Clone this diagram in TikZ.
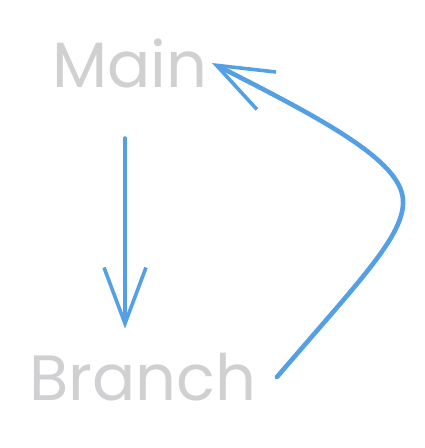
\documentclass[tikz,border=0pt]{standalone}
\usepackage{fontspec}
\setmainfont{Poppins}
\usetikzlibrary{arrows.meta}

\definecolor{labelgray}{HTML}{D0CFD1}
\definecolor{arrowblue}{HTML}{55A0E4}

\begin{document}
\begin{tikzpicture}[x=0.5pt,y=-0.5pt,
    label/.style={text=labelgray,font=\fontsize{32}{36}\selectfont,inner sep=0pt},
    flow/.style={draw=arrowblue,line cap=round,line join=round,
        -{Straight Barb[length=28pt,width=21pt,line width=1.8pt]}}]
    \useasboundingbox (0,0) rectangle (424,448);
    % Labels
    \node[label] (main) at (130,63) {Main};
    \node[label] (branch) at (143,377) {Branch};
    % Main to Branch
    \draw[flow,line width=1.8pt,shorten <=25pt,shorten >=12pt] (main.south) ++(-5,0) coordinate (mainfoot) (mainfoot) -- (branch.north -| mainfoot);
    % Branch back to Main
    \draw[flow,line width=2.3pt] ([xshift=10pt]branch.east) .. controls (360,280) and (405,235) .. (403,200)
        .. controls (401,160) and (320,118) .. ([xshift=2pt]main.east);
\end{tikzpicture}
\end{document}
